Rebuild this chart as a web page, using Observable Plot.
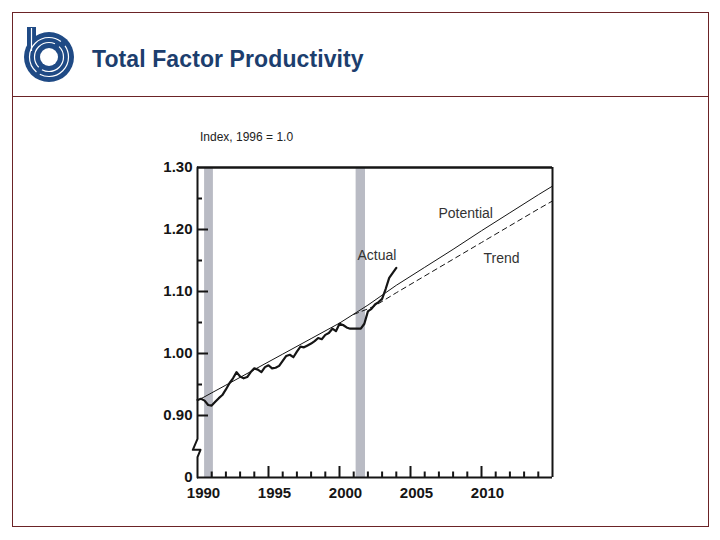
<!DOCTYPE html>
<html>
<head>
<meta charset="utf-8">
<script src="https://cdn.jsdelivr.net/npm/d3@7"></script>
<script src="https://cdn.jsdelivr.net/npm/@observablehq/plot@0.6"></script>
<style>
  html, body { margin: 0; padding: 0; background: #fff; }
  body { width: 720px; height: 540px; position: relative; overflow: hidden; font-family: "Liberation Sans", Arial, sans-serif; }
  .frame { position: absolute; left: 12px; top: 12px; width: 697px; height: 515px; border: 1px solid #6b2326; box-sizing: border-box; }
  .divider { position: absolute; left: 12px; top: 96px; width: 697px; height: 0; border-top: 1px solid #6b2326; }
  .title { position: absolute; left: 92px; top: 46px; font-size: 23px; font-weight: bold; color: #1c3e6e; letter-spacing: 0.1px; }
  .subtitle { position: absolute; left: 200px; top: 130px; font-size: 12px; color: #222; }
  #logo { position: absolute; left: 24px; top: 27px; }
  #chart { position: absolute; left: 0; top: 150px; }
</style>
</head>
<body>
<div class="frame"></div>
<div class="divider"></div>
<svg id="logo" width="54" height="56" viewBox="0 0 54 56">
  <circle cx="25" cy="30" r="25" fill="#1f4a85"/>
  <rect x="3" y="0" width="9" height="28" fill="#1f4a85"/>
  <circle cx="25" cy="30" r="19.5" fill="none" stroke="#fff" stroke-width="1.2" stroke-dasharray="40 4 60 6"/>
  <circle cx="25" cy="30" r="14.5" fill="none" stroke="#fff" stroke-width="1.2" stroke-dasharray="30 4 40 5"/>
  <circle cx="25" cy="30" r="9" fill="#fff"/>
  <line x1="7.5" y1="1" x2="7.5" y2="24" stroke="#fff" stroke-width="1.2"/>
</svg>
<div class="title">Total Factor Productivity</div>
<div class="subtitle">Index, 1996 = 1.0</div>
<div id="chart"></div>
<script>
// ---- data ----
const actualYears = [1990, 1990.25, 1990.5, 1990.75, 1991, 1991.25, 1991.5, 1991.75,
  1992, 1992.25, 1992.5, 1992.75, 1993, 1993.25, 1993.5, 1993.75,
  1994, 1994.25, 1994.5, 1994.75, 1995, 1995.25, 1995.5, 1995.75,
  1996, 1996.25, 1996.5, 1996.75, 1997, 1997.25, 1997.5, 1997.75,
  1998, 1998.25, 1998.5, 1998.75, 1999, 1999.25, 1999.5, 1999.75,
  2000, 2000.25, 2000.5, 2000.75, 2001, 2001.25, 2001.5, 2001.75,
  2002, 2002.25, 2002.5, 2002.75, 2003, 2003.25, 2003.5, 2003.75, 2004];
const actualValues = [0.925, 0.927, 0.924, 0.917, 0.916, 0.922, 0.928, 0.933,
  0.942, 0.952, 0.960, 0.970, 0.963, 0.960, 0.962, 0.970,
  0.976, 0.974, 0.970, 0.978, 0.981, 0.976, 0.977, 0.980,
  0.988, 0.996, 0.998, 0.994, 1.003, 1.011, 1.010, 1.013,
  1.016, 1.020, 1.025, 1.023, 1.030, 1.033, 1.040, 1.036,
  1.048, 1.046, 1.042, 1.040, 1.040, 1.040, 1.040, 1.048,
  1.068, 1.072, 1.079, 1.083, 1.088, 1.104, 1.122, 1.130, 1.138];

const potentialYears = [1990, 1992, 1994, 1996, 1998, 2000, 2002, 2004, 2006, 2008, 2010, 2012, 2014, 2015];
const potentialValues = [0.924, 0.949, 0.974, 0.999, 1.024, 1.049, 1.078, 1.110, 1.139, 1.168, 1.198, 1.227, 1.256, 1.270];

const trendYears = [2001, 2002, 2002.5, 2003, 2004, 2006, 2008, 2010, 2012, 2014, 2015];
const trendValues = [1.063, 1.072, 1.077, 1.084, 1.098, 1.125, 1.152, 1.179, 1.206, 1.233, 1.246];

const recessionStart = [1990.5, 2001.17];
const recessionEnd = [1991.12, 2001.83];

const seriesNames = ["Potential", "Actual", "Trend"];
const labelYears = [2006.97, 2001.27, 2010.14];
const labelValues = [1.226, 1.158, 1.153];

const yTickValues = [0.8, 0.9, 1.0, 1.1, 1.2, 1.3];
const yTickLabels = ["0", "0.90", "1.00", "1.10", "1.20", "1.30"];
const yMajorTicks = [0.9, 1.0, 1.1, 1.2];
const yMinorTicks = [0.95, 1.05, 1.15, 1.25];
const xTickValues = [1990, 1995, 2000, 2005, 2010];
const xMajorTicks = [1995, 2000, 2005, 2010];
const xMinorTicks = [1991, 1992, 1993, 1994, 1996, 1997, 1998, 1999, 2001, 2002, 2003, 2004,
  2006, 2007, 2008, 2009, 2011, 2012, 2013, 2014];

// left axis with the scale-break zigzag (data units)
const axisBreakYears = [1990, 1990, 1989.67, 1990.21, 1990, 1990];
const axisBreakValues = [1.3, 0.8624, 0.8447, 0.8447, 0.8327, 0.8];

// ---- tables ----
const zip = (xs, ys) => xs.map((x, i) => ({x, y: ys[i]}));
const actual = zip(actualYears, actualValues);
const potential = zip(potentialYears, potentialValues);
const trend = zip(trendYears, trendValues);
const recessions = recessionStart.map((s, i) => ({s, e: recessionEnd[i]}));
const labels = seriesNames.map((name, i) => ({name, x: labelYears[i], y: labelValues[i]}));
const axisBreak = zip(axisBreakYears, axisBreakValues);

const W = 720, H = 357, ML = 197, MR = 168, MT = 17, MB = 30;
const plotW = W - ML - MR, plotH = H - MT - MB;
const ink = "#151515";

const chart = Plot.plot({
  width: W, height: H,
  marginLeft: ML, marginRight: MR, marginTop: MT, marginBottom: MB,
  style: {fontFamily: "'Liberation Sans', Arial, sans-serif", fontSize: "15px", fontWeight: "bold", color: ink, background: "transparent"},
  x: {domain: [1990, 2015], label: null},
  y: {domain: [0.8, 1.3], label: null},
  marks: [
    Plot.rect(recessions, {x1: "s", x2: "e", y1: 0.8, y2: 1.3, fill: "#b9bbc4"}),
    Plot.line(potential, {x: "x", y: "y", stroke: ink, strokeWidth: 1}),
    Plot.line(trend, {x: "x", y: "y", stroke: ink, strokeWidth: 1, strokeDasharray: "5,4"}),
    Plot.line(actual, {x: "x", y: "y", stroke: ink, strokeWidth: 2.2, strokeLinejoin: "round"}),
    // frame
    Plot.ruleY([1.3], {stroke: ink, strokeWidth: 2.6}),
    Plot.ruleY([0.8], {stroke: ink, strokeWidth: 2}),
    Plot.ruleX([2015], {stroke: ink, strokeWidth: 2}),
    Plot.line(axisBreak, {x: "x", y: "y", stroke: ink, strokeWidth: 2, curve: "linear"}),
    // inward ticks
    Plot.ruleY(yMajorTicks, {stroke: ink, strokeWidth: 2, insetRight: plotW - 11}),
    Plot.ruleY(yMinorTicks, {stroke: ink, strokeWidth: 2, insetRight: plotW - 5}),
    Plot.ruleX(xMajorTicks, {stroke: ink, strokeWidth: 2, insetTop: plotH - 11}),
    Plot.ruleX(xMinorTicks, {stroke: ink, strokeWidth: 2, insetTop: plotH - 5.5}),
    // axes (labels only)
    Plot.axisY(yTickValues, {tickSize: 0, tickPadding: 5, tickFormat: d => yTickLabels[yTickValues.indexOf(d)], fill: ink}),
    Plot.axisX(xTickValues, {tickSize: 0, tickPadding: 10, tickFormat: d => String(d), dx: 6, fill: ink}),
    // series labels
    Plot.text(labels, {x: "x", y: "y", text: "name", textAnchor: "start", fontSize: 14, fontWeight: "normal", fill: "#333"})
  ]
});
document.getElementById("chart").appendChild(chart);
</script>
</body>
</html>
